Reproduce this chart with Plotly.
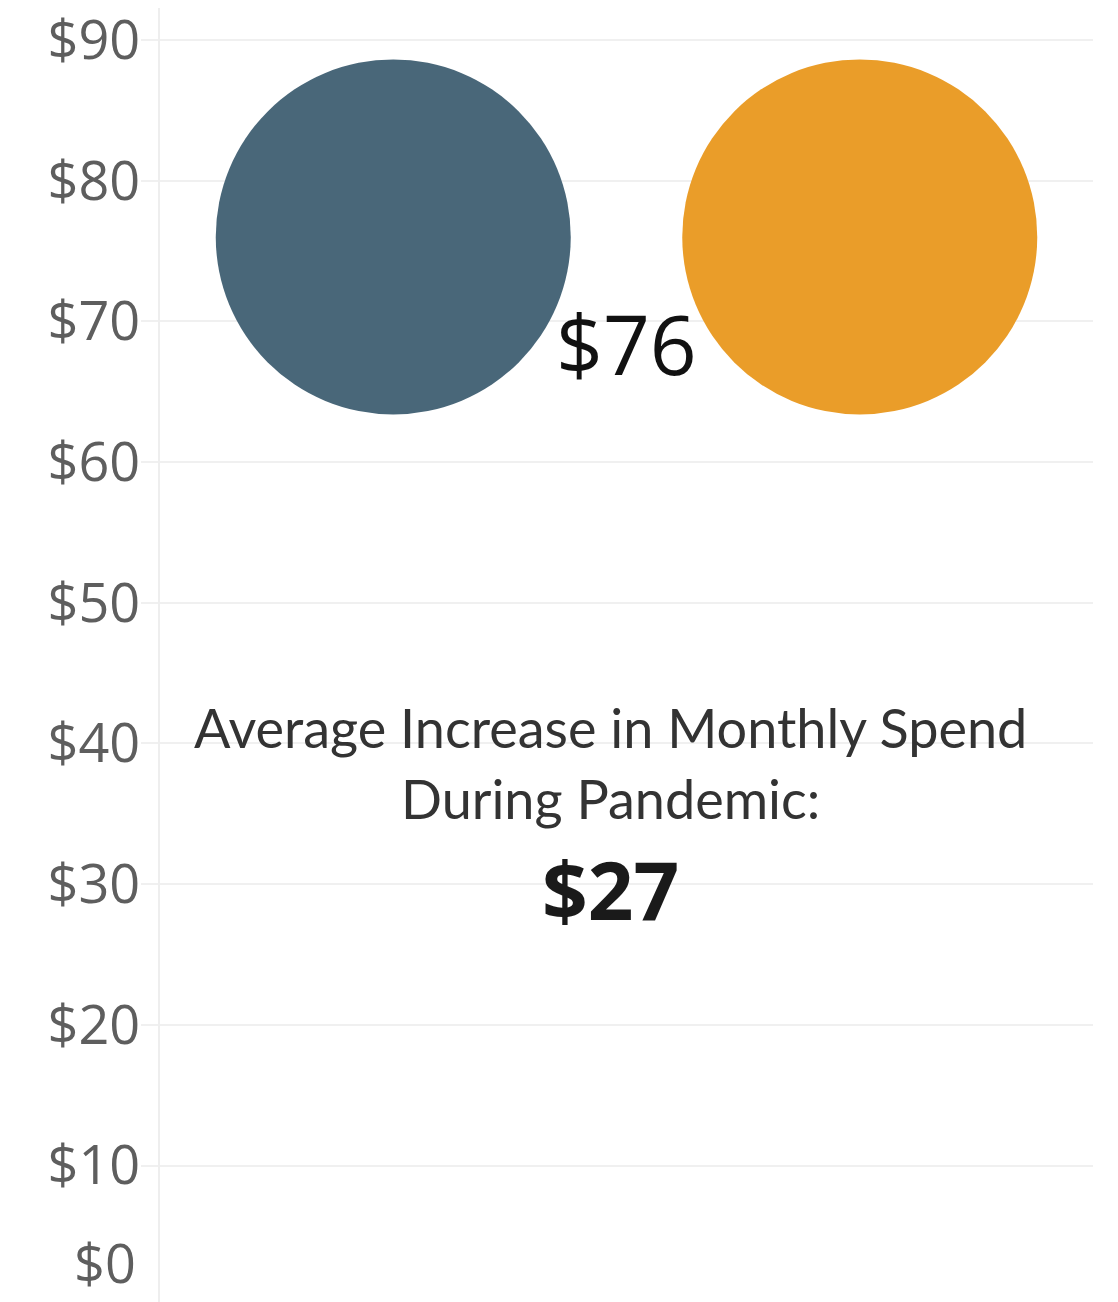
import plotly.graph_objects as go

# ---- data ----
categories = ["Before Pandemic", "During Pandemic"]
monthly_spend = [76, 76]
colors = ["#496779", "#EA9D29"]
avg_increase = 27
tick_values = [10, 20, 30, 40, 50, 60, 70, 80, 90]
tick_labels = ["$" + str(v) for v in tick_values]

fig = go.Figure()
fig.add_trace(go.Scatter(
    x=[0, 1], y=monthly_spend,
    mode="markers",
    marker=dict(size=355, color=colors, line=dict(width=0)),
    hoverinfo="skip", showlegend=False, cliponaxis=False,
))

fig.add_annotation(
    x=0.5, y=monthly_spend[0], xref="x", yref="y",
    text="$" + str(monthly_spend[0]), showarrow=False,
    yshift=-106,
    font=dict(family="Open Sans", size=82, color="#111111"),
)

fig.add_annotation(
    x=0.483, xref="paper", y=41.1, yref="y",
    text="Average Increase in Monthly Spend", showarrow=False,
    font=dict(family="Lato", size=54, color="#333333"),
)
fig.add_annotation(
    x=0.483, xref="paper", y=36.1, yref="y",
    text="During Pandemic:", showarrow=False,
    font=dict(family="Lato", size=54, color="#333333"),
)
fig.add_annotation(
    x=0.483, xref="paper", y=29.7, yref="y",
    text="<b>$" + str(avg_increase) + "</b>", showarrow=False,
    font=dict(family="Open Sans", size=80, color="#1a1a1a"),
)
# $0 label (axis bottom lies just beyond the view)
fig.add_annotation(
    x=0, xref="paper", xanchor="right", xshift=-22,
    y=0, yref="paper", yanchor="bottom", yshift=1,
    text="$0", showarrow=False,
    font=dict(family="Open Sans", size=54, color="#5e5e5e"),
)

fig.update_xaxes(
    range=[-0.5, 1.5], showgrid=False, zeroline=False,
    showticklabels=False, showline=False, fixedrange=True,
    automargin=False,
)
fig.update_yaxes(
    range=[0.30, 92.27],
    tickvals=tick_values, ticktext=tick_labels,
    showgrid=True, gridcolor="#f0f0f0", gridwidth=2,
    zeroline=False,
    showline=True, linecolor="#eeeeee", linewidth=2,
    ticks="outside", ticklen=17, tickcolor="#f0f0f0", tickwidth=2,
    ticklabelstandoff=-10, ticklabeloverflow="allow",
    tickfont=dict(family="Open Sans", size=54, color="#5e5e5e"),
    automargin=False,
)

fig.update_layout(
    width=1110, height=1294,
    margin=dict(l=152, r=25, t=0, b=0),
    paper_bgcolor="white", plot_bgcolor="white",
)

fig.write_html("out.html")
